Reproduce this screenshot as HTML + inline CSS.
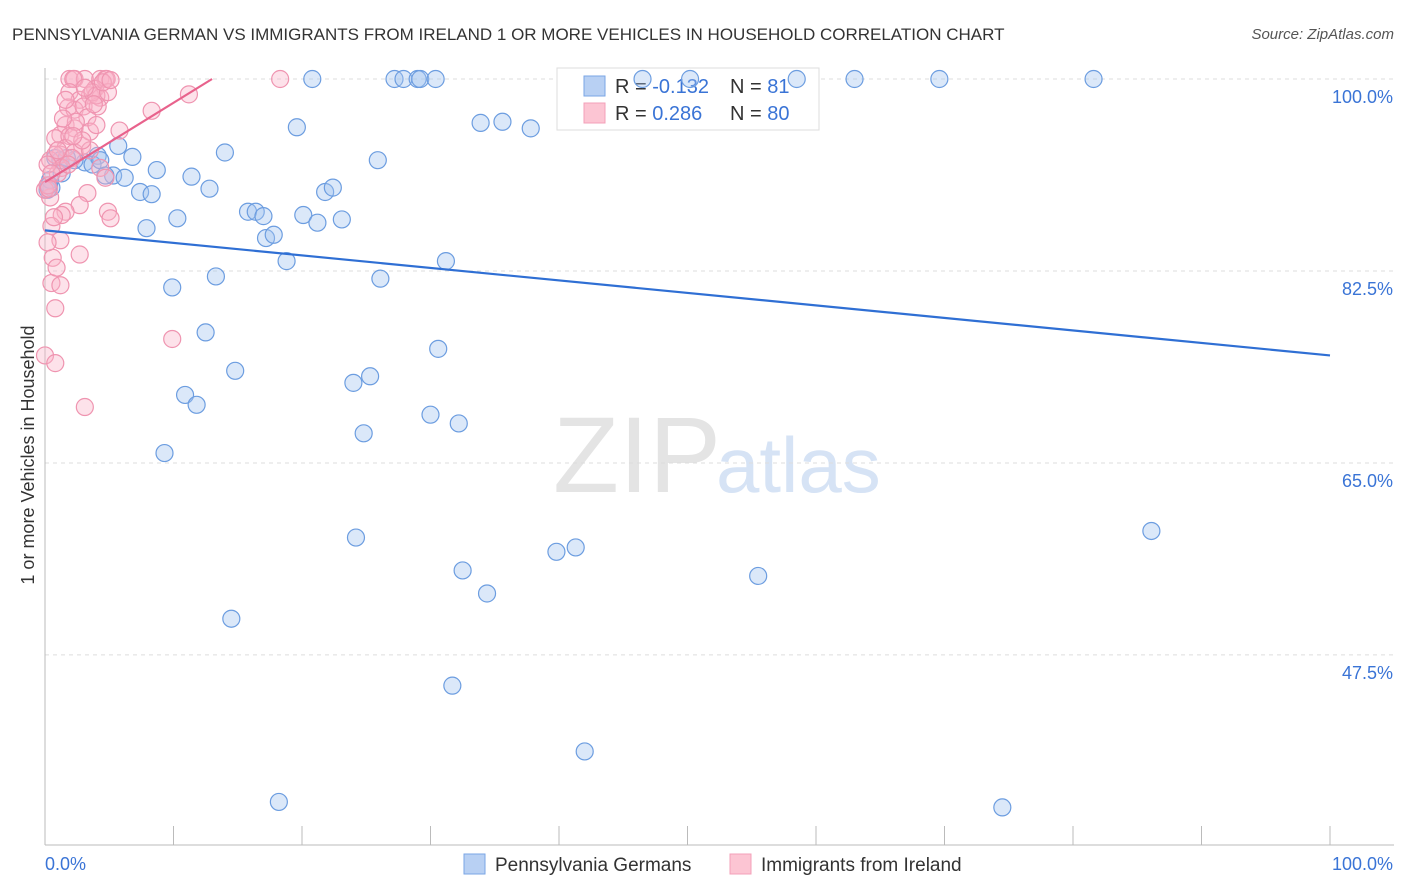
<!DOCTYPE html>
<html><head><meta charset="utf-8">
<style>
body{margin:0;background:#fff;font-family:"Liberation Sans",sans-serif;}
#wrap{position:relative;width:1406px;height:892px;overflow:hidden;}
svg text{font-family:"Liberation Sans",sans-serif;}
</style></head>
<body>
<div id="wrap">
<svg id="chart" width="1406" height="892">
  <text x="12" y="40" font-size="17" fill="#333">PENNSYLVANIA GERMAN VS IMMIGRANTS FROM IRELAND 1 OR MORE VEHICLES IN HOUSEHOLD CORRELATION CHART</text>
  <text x="1394" y="39" font-size="15" fill="#555" font-style="italic" text-anchor="end">Source: ZipAtlas.com</text>
  <text transform="translate(34,455) rotate(-90)" font-size="18" fill="#333" text-anchor="middle">1 or more Vehicles in Household</text>
  <text x="553" y="492" font-size="108" fill="#e4e4e4" font-family="Liberation Serif">ZIP</text>
  <text x="716" y="492" font-size="78" fill="#d6e3f5">atlas</text>
  <g id="grid"></g><g id="axes"></g>
  <g>
    <rect x="557" y="68" width="262" height="62" fill="#fff" stroke="#ddd"/>
    <rect x="584" y="76" width="21" height="20" fill="#b8d0f3" stroke="#7aa6e6"/>
    <rect x="584" y="103" width="21" height="20" fill="#fcc5d3" stroke="#f3a0b8"/>
    <text x="615" y="93" font-size="20" fill="#333">R = <tspan fill="#3a74d6">-0.132</tspan></text>
    <text x="730" y="93" font-size="20" fill="#333">N = <tspan fill="#3a74d6"> 81</tspan></text>
    <text x="615" y="120" font-size="20" fill="#333">R = <tspan fill="#3a74d6"> 0.286</tspan></text>
    <text x="730" y="120" font-size="20" fill="#333">N = <tspan fill="#3a74d6">80</tspan></text>
  </g>
  <g id="marks"></g><g id="trends"></g>
  <g>
    <rect x="464" y="854" width="21" height="20" fill="#b8d0f3" stroke="#7aa6e6"/>
    <text x="495" y="871" font-size="19" fill="#333">Pennsylvania Germans</text>
    <rect x="730" y="854" width="21" height="20" fill="#fcc5d3" stroke="#f3a0b8"/>
    <text x="761" y="871" font-size="19" fill="#333">Immigrants from Ireland</text>
  </g>
</svg>
</div>
<script>
const yTicks=[100,82.5,65,47.5];
const yTickLabels=["100.0%","82.5%","65.0%","47.5%"];
const xEndLabels=["0.0%","100.0%"];
const blueX=[0.8,1.3,0.5,4.1,5.7,6.8,8.7,5.3,6.2,7.4,8.3,7.9,10.3,11.4,12.8,14.0,15.8,16.4,17.0,17.2,17.8,18.8,19.6,20.1,21.2,21.8,22.4,23.1,25.9,26.1,31.2,33.9,35.6,37.8,9.9,13.3,12.5,14.8,10.9,11.8,9.3,24.0,25.3,30.6,30.0,32.2,24.8,24.2,32.5,34.4,39.8,41.3,55.5,86.1,14.5,31.7,42.0,18.2,74.5,20.8,27.2,27.9,29.0,29.2,30.4,46.5,50.2,58.5,63.0,69.6,81.6,3.1,3.7,1.2,2.3,0.2,4.3,1.7,4.7,0.4,0.3];
const blueY=[92.8,91.4,90.1,93.0,93.9,92.9,91.7,91.2,91.0,89.7,89.5,86.4,87.3,91.1,90.0,93.3,87.9,87.9,87.5,85.5,85.8,83.4,95.6,87.6,86.9,89.7,90.1,87.2,92.6,81.8,83.4,96.0,96.1,95.5,81.0,82.0,76.9,73.4,71.2,70.3,65.9,72.3,72.9,75.4,69.4,68.6,67.7,58.2,55.2,53.1,56.9,57.3,54.7,58.8,50.8,44.7,38.7,34.1,33.6,100,100,100,100,100,100,100,100,100,100,100,100,92.4,92.2,92.6,92.6,89.9,92.6,92.8,91.2,90.8,90.3];
const pinkX=[1.9,2.3,3.1,4.3,4.7,2.2,4.8,18.3,3.9,3.5,1.9,2.7,4.3,1.8,2.3,3.0,4.1,3.3,1.6,2.3,1.2,0.8,1.9,2.9,1.6,1.2,2.3,3.5,0.4,0.8,2.1,4.3,4.7,3.3,2.7,1.6,1.3,4.9,5.1,0.4,0,0.2,1.2,0.5,2.7,0.6,0.5,1.2,0.8,0,0.8,3.1,9.9,8.3,5.8,11.2,3.7,4.0,4.9,1.3,1.0,0.2,0.5,2.4,3.5,1.6,0.7,0.9,1.8,2.9,3.8,4.5,5.1,1.4,2.2,3.1,0.2,1.0,4.0,0.3];
const pinkY=[100,100,100,100,100,100,100,100,99.1,98.5,98.8,98.1,98.3,97.4,97.2,97.5,97.5,96.5,95.8,95.5,94.9,94.6,94.8,93.9,93.7,93.1,93.3,93.5,92.6,93.1,92.8,91.9,91.0,89.6,88.5,87.9,87.6,87.9,87.3,89.2,89.9,90.3,85.3,86.6,84.0,83.7,81.4,81.2,79.1,74.8,74.1,70.1,76.3,97.1,95.3,98.6,98.8,98.5,98.8,91.9,91.4,92.2,91.4,96.1,95.2,98.1,87.4,82.8,92.2,94.4,97.7,99.7,99.9,96.4,94.8,99.2,85.1,93.5,95.8,90.0];
const blueTrend=[86.2,74.8];
const pinkTrend=[90.6,100];
const pinkTrendXEnd=13.0;

const X0=45,X1=1330,Y100=79,PXPER=10.97;
const xs=v=>X0+(X1-X0)*v/100;
const ys=v=>Y100+(100-v)*PXPER;
const NS="http://www.w3.org/2000/svg";
function mk(tag,attrs,parent){const e=document.createElementNS(NS,tag);for(const k in attrs)e.setAttribute(k,attrs[k]);parent.appendChild(e);return e;}
const grid=document.getElementById('grid'),axes=document.getElementById('axes'),marks=document.getElementById('marks'),trends=document.getElementById('trends');
yTicks.forEach((t,i)=>{
  const l=mk('line',{x1:X0,x2:1394,y1:ys(t),y2:ys(t),stroke:'#ddd','stroke-dasharray':'4,4'},grid);
  
  
  const tx=mk('text',{x:1393,y:ys(t)+24,'font-size':18,fill:'#3a74d6','text-anchor':'end'},axes);
  tx.textContent=yTickLabels[i];
  
  
});
const ax=mk('line',{x1:X0,x2:X0,y1:68,y2:845,stroke:'#bbb'},axes);


const bx=mk('line',{x1:X0,x2:1394,y1:845,y2:845,stroke:'#bbb'},axes);


for(let i=0;i<=10;i++){
  const t=mk('line',{x1:xs(i*10),x2:xs(i*10),y1:826,y2:845,stroke:'#bbb'},axes);
  
  
}
const xl0=mk('text',{x:45,y:870,'font-size':18,fill:'#3a74d6'},axes);xl0.textContent=xEndLabels[0];


const xl1=mk('text',{x:1393,y:870,'font-size':18,fill:'#3a74d6','text-anchor':'end'},axes);xl1.textContent=xEndLabels[1];


blueX.forEach((v,i)=>{
  const c=mk('circle',{cx:xs(v),cy:ys(blueY[i]),r:8.5,fill:'rgba(160,195,240,0.38)',stroke:'#6c9de0','stroke-width':1.2},marks);
  
  
});
pinkX.forEach((v,i)=>{
  const c=mk('circle',{cx:xs(v),cy:ys(pinkY[i]),r:8.5,fill:'rgba(250,180,200,0.38)',stroke:'#ef94b0','stroke-width':1.2},marks);
  
  
});
const bt=mk('line',{x1:xs(0),y1:ys(blueTrend[0]),x2:xs(100),y2:ys(blueTrend[1]),stroke:'#2f6fd4','stroke-width':2.2},trends);


const pt=mk('line',{x1:xs(0),y1:ys(pinkTrend[0]),x2:xs(pinkTrendXEnd),y2:ys(pinkTrend[1]),stroke:'#e8628c','stroke-width':2.2},trends);


</script>
</body></html>
